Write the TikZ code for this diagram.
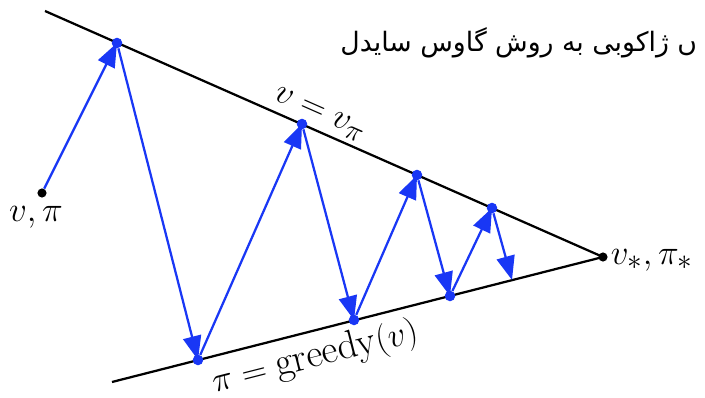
\documentclass[tikz,border=0pt]{standalone}
\usepackage{fontspec}
\usetikzlibrary{arrows.meta}
\newfontfamily\persianfont[Script=Arabic]{DejaVu Sans}
\TeXXeTstate=1
\definecolor{zigblue}{RGB}{25,55,245}

\begin{document}
\begin{tikzpicture}[
    x=0.025cm, y=-0.025cm,
    every node/.style={font=\fontsize{28}{33}\selectfont},
    bdot/.style={circle, fill=zigblue, inner sep=0pt, minimum size=7.5pt},
    kdot/.style={circle, fill=black, inner sep=0pt, minimum size=6.5pt},
    bound/.style={line width=1.6pt},
    zig/.style={draw=zigblue, line width=1.6pt, -{Triangle[length=17pt,width=13pt]}}
]
\useasboundingbox (0,0) rectangle (705,398);

% nadpis
\node[anchor=east, font=\persianfont\fontsize{19}{23}\selectfont] (title) at (702,43) {\beginR ں ژاکوبی به روش گاوس سایدل\endR};

% ramena klinu
\coordinate (ul) at (45,11);
\coordinate (ll) at (112,382);
\node[kdot] (vs) at (603,257) {};
\draw[bound] (ul) -- node[sloped, above, pos=0.48] {$v = v_\pi$} (vs.center);
\draw[bound] (ll) -- node[sloped, below, pos=0.40, yshift=-2pt] {$\pi = \mathrm{greedy}(v)$} (vs.center);

% body iterace
\node[kdot] (s) at (42,193) {};
\node[bdot] (a1) at (117,43) {};
\node[bdot] (b1) at (198,360) {};
\node[bdot] (a2) at (302,124) {};
\node[bdot] (b2) at (354,320) {};
\node[bdot] (a3) at (417,175) {};
\node[bdot] (b3) at (450,296) {};
\node[bdot] (a4) at (492,208) {};
\coordinate (e) at (512,280);

% sipky
\draw[zig] (s) -- (a1.center);
\draw[zig] (a1) -- (b1.center);
\draw[zig] (b1) -- (a2.center);
\draw[zig] (a2) -- (b2.center);
\draw[zig] (b2) -- (a3.center);
\draw[zig] (a3) -- (b3.center);
\draw[zig] (b3) -- (a4.center);
\draw[zig] (a4) -- (e);

% popisky
\node (lvp) at (36,217) {$v, \pi$};
\node[anchor=west] (lvs) at (606,260) {$v_*, \pi_*$};

\end{tikzpicture}
\end{document}
